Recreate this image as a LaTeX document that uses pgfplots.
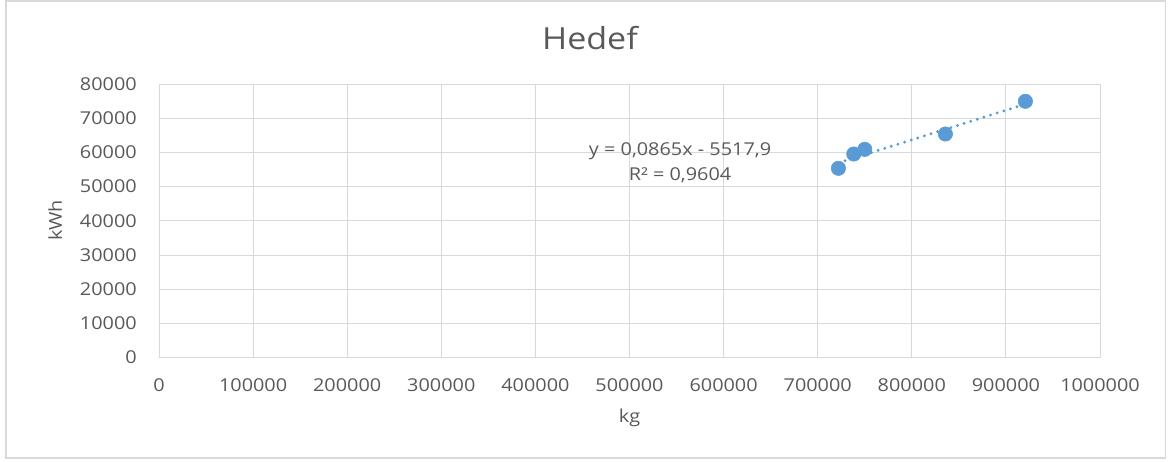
\documentclass[border=0pt]{standalone}
\usepackage{fontspec}
\setmainfont{Open Sans}[FakeStretch=1.12]
\usepackage{pgfplots}
\pgfplotsset{compat=1.18}

\definecolor{txtgray}{RGB}{89,89,89}
\definecolor{gridgray}{RGB}{217,217,217}
\definecolor{markblue}{RGB}{91,155,213}

\begin{document}
\begin{tikzpicture}
% overall canvas and chart frame
\path[use as bounding box] (0pt,0pt) rectangle (876.75pt,345.75pt);
\draw[gridgray, line width=1.2pt] (4.5pt,2.2pt) rectangle (874pt,345pt);

\begin{axis}[
  at={(119.25pt,77.55pt)}, anchor=south west,
  scale only axis, width=705.75pt, height=205.2pt,
  xmin=0, xmax=1000000, ymin=0, ymax=80000,
  xtick={0,100000,...,1000000},
  ytick={0,10000,...,80000},
  scaled ticks=false,
  /pgf/number format/assume math mode=true,
  /pgf/number format/set thousands separator={},
  /pgf/number format/fixed,
  major tick length=0pt,
  grid=major,
  grid style={gridgray, line width=0.75pt},
  axis line style={gridgray, line width=0.75pt},
  tick label style={txtgray, font=\fontsize{13.3}{16}\selectfont, inner sep=0pt},
  xticklabel style={anchor=center, yshift=-21pt},
  yticklabel style={anchor=east, xshift=-16.5pt},
  clip=false,
]
% linear trendline y = 0.0865x - 5517.9 over the data range
\addplot[markblue, line width=2.4pt, line cap=round, dash pattern=on 0pt off 5.2pt]
  coordinates {(722000,56935.1) (920700,74122.7)};
% measured points
\addplot[only marks, mark=*, mark size=5.4pt, mark options={fill=markblue, draw=markblue}]
  coordinates {
    (722000,55350)
    (738300,59530)
    (750000,60900)
    (835700,65380)
    (920700,74940)
  };
\end{axis}

% title, axis titles, regression label
\node[txtgray, font=\fontsize{22.8}{26}\selectfont] at (442.5pt,317.6pt) {Hedef};
\node[txtgray, font=\fontsize{13.3}{16}\selectfont, rotate=90] at (41.3pt,180.5pt) {kWh};
\node[txtgray, font=\fontsize{13.3}{16}\selectfont] at (472.1pt,32.2pt) {kg};
\node[txtgray, font=\fontsize{13.3}{16}\selectfont, align=center, inner sep=0pt]
  at (510pt,223.5pt) {y = 0,0865x - 5517,9\\[2.5pt] R² = 0,9604};
\end{tikzpicture}
\end{document}
